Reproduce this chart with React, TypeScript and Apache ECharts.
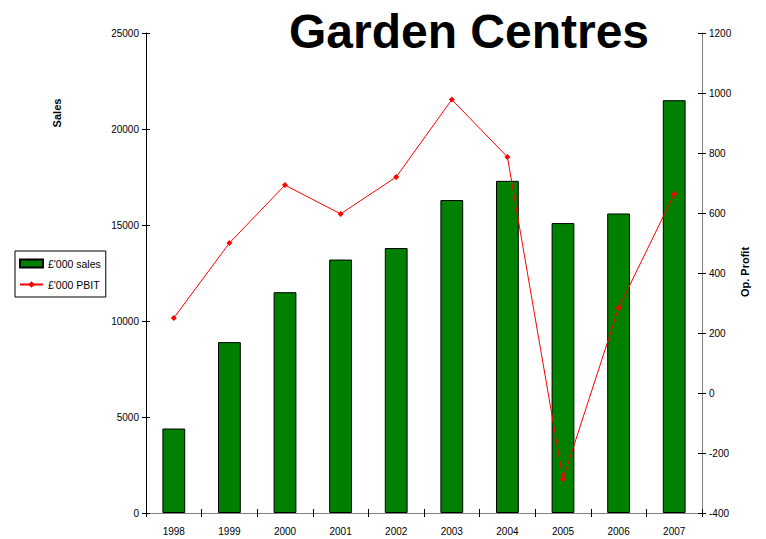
import React, { useEffect, useRef } from "react";
import * as echarts from "echarts";

const years = ["1998", "1999", "2000", "2001", "2002", "2003", "2004", "2005", "2006", "2007"];
const sales = [4400, 8900, 11500, 13200, 13800, 16300, 17300, 15100, 15600, 21500];
const pbit = [250, 500, 693, 597, 720, 978, 787, -287, 283, 663];

export default function App() {
  const ref = useRef<HTMLDivElement>(null);
  useEffect(() => {
    if (!ref.current) return;
    const chart = echarts.init(ref.current, undefined, { renderer: "svg" });
    const font = "Arial, 'Liberation Sans', sans-serif";
    const labelStyle = { color: "#000", fontSize: 10, fontFamily: font, formatter: (v: number | string) => String(v) };
    chart.setOption({
      animation: false,
      textStyle: { fontFamily: font },
      grid: { left: 146, right: 64, top: 33, bottom: 26, containLabel: false },
      legend: {
        orient: "vertical",
        left: 15,
        top: 251,
        borderColor: "#000",
        borderWidth: 1,
        padding: [7, 5, 7, 4],
        itemGap: 10,
        itemWidth: 23,
        itemHeight: 8,
        textStyle: { color: "#000", fontSize: 10.5, fontFamily: font },
        data: [
          { name: "£'000 sales", icon: "rect" },
          { name: "£'000 PBIT" },
        ],
      },
      graphic: [
        {
          type: "text",
          x: 469,
          y: 31,
          style: {
            text: "Garden Centres",
            font: `bold 48px ${font}`,
            fill: "#000",
            textAlign: "center",
            textVerticalAlign: "middle",
          },
        },
        {
          type: "text",
          x: 57,
          y: 113,
          rotation: Math.PI / 2,
          style: {
            text: "Sales",
            font: `bold 11px ${font}`,
            fill: "#000",
            textAlign: "center",
            textVerticalAlign: "middle",
          },
        },
        {
          type: "text",
          x: 745,
          y: 272,
          rotation: Math.PI / 2,
          style: {
            text: "Op. Profit",
            font: `bold 11px ${font}`,
            fill: "#000",
            textAlign: "center",
            textVerticalAlign: "middle",
          },
        },
      ],
      xAxis: [
        {
          type: "category",
          data: years,
          position: "bottom",
          axisLine: { onZero: false, lineStyle: { color: "#808080", width: 1 } },
          axisTick: { show: true, length: 4, lineStyle: { color: "#000" } },
          axisLabel: { color: "#000", fontSize: 10, fontFamily: font, margin: 13 },
        },
        {
          type: "category",
          data: years,
          position: "bottom",
          axisLine: { show: false, onZero: false },
          axisTick: { show: true, inside: true, length: 4, lineStyle: { color: "#000" } },
          axisLabel: { show: false },
        },
      ],
      yAxis: [
        {
          type: "value",
          min: 0,
          max: 25000,
          interval: 5000,
          position: "left",
          splitLine: { show: false },
          axisLine: { show: true, lineStyle: { color: "#000" } },
          axisTick: { show: true, length: 4, lineStyle: { color: "#000" } },
          axisLabel: { ...labelStyle, margin: 7 },
        },
        {
          type: "value",
          min: -400,
          max: 1200,
          interval: 200,
          position: "right",
          splitLine: { show: false },
          axisLine: { show: true, lineStyle: { color: "#808080" } },
          axisTick: { show: true, length: 4, lineStyle: { color: "#000" } },
          axisLabel: { ...labelStyle, margin: 7 },
        },
        {
          type: "value",
          min: 0,
          max: 25000,
          interval: 5000,
          position: "left",
          splitLine: { show: false },
          axisLine: { show: false },
          axisTick: { show: true, inside: true, length: 4, lineStyle: { color: "#000" } },
          axisLabel: { show: false },
        },
        {
          type: "value",
          min: -400,
          max: 1200,
          interval: 200,
          position: "right",
          splitLine: { show: false },
          axisLine: { show: false },
          axisTick: { show: true, inside: true, length: 4, lineStyle: { color: "#000" } },
          axisLabel: { show: false },
        },
      ],
      series: [
        {
          name: "£'000 sales",
          type: "bar",
          data: sales,
          xAxisIndex: 0,
          yAxisIndex: 0,
          barWidth: "41%",
          itemStyle: { color: "#008000", borderColor: "#000", borderWidth: 1 },
        },
        {
          name: "£'000 PBIT",
          type: "line",
          data: pbit,
          xAxisIndex: 0,
          yAxisIndex: 1,
          symbol: "diamond",
          symbolSize: 6,
          lineStyle: { color: "#ff0000", width: 1 },
          itemStyle: { color: "#ff0000" },
        },
      ],
    });
    return () => chart.dispose();
  }, []);
  return <div ref={ref} style={{ width: 766, height: 539, position: "absolute", left: 0, top: 0 }} />;
}
